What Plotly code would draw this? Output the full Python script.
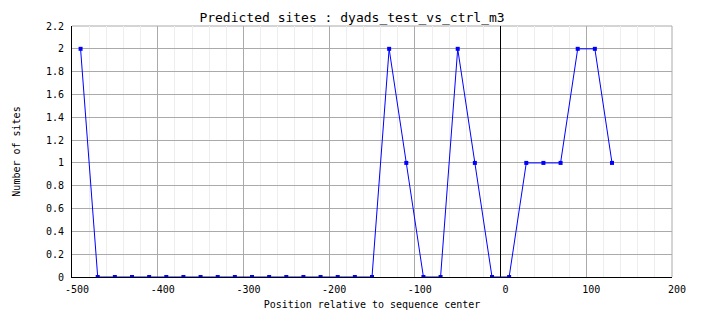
import plotly.graph_objects as go

positions = [-490, -470, -450, -430, -410, -390, -370, -350, -330, -310, -290, -270,
             -250, -230, -210, -190, -170, -150, -130, -110, -90, -70, -50, -30,
             -10, 10, 30, 50, 70, 90, 110, 130]
sites = [2, 0, 0, 0, 0, 0, 0, 0, 0, 0, 0, 0,
         0, 0, 0, 0, 0, 0, 2, 1, 0, 0, 2, 1,
         0, 0, 1, 1, 1, 2, 2, 1]

x_tick_vals = [-500, -400, -300, -200, -100, 0, 100, 200]
x_tick_text = ["-500", "-400", "-300", "-200", "-100", "0", "100", "200"]
y_tick_vals = [0, 0.2, 0.4, 0.6, 0.8, 1, 1.2, 1.4, 1.6, 1.8, 2, 2.2]
y_tick_text = ["0", "0.2", "0.4", "0.6", "0.8", "1", "1.2", "1.4", "1.6", "1.8", "2", "2.2"]

title_text = "Predicted sites : dyads_test_vs_ctrl_m3"
x_title = "Position relative to sequence center"
y_title = "Number of sites"

FONT = "DejaVu Sans Mono"

fig = go.Figure()
fig.add_trace(go.Scatter(
    x=positions, y=sites, mode="lines+markers",
    line=dict(color="#0000ff", width=1),
    marker=dict(color="#0000ff", size=4, symbol="square"),
    showlegend=False,
))

fig.update_layout(
    width=704, height=328,
    margin=dict(l=72, r=32, t=26, b=51),
    paper_bgcolor="white", plot_bgcolor="white",
    font=dict(family=FONT, size=10, color="black"),
    title=dict(text=title_text, x=0.5, xanchor="center", y=0.947, yanchor="middle",
               font=dict(family=FONT, size=13, color="black")),
    xaxis=dict(
        range=[-500, 200], tickvals=x_tick_vals, ticktext=x_tick_text,
        showgrid=True, gridcolor="#aaaaaa", gridwidth=1,
        minor=dict(dtick=20, tick0=0, showgrid=True, gridcolor="#eeeeee", gridwidth=1),
        zeroline=True, zerolinecolor="black", zerolinewidth=1,
        showline=True, linecolor="black", linewidth=1,
        ticks="", ticklabelshift=5, ticklabelstandoff=3,
        title=dict(text=x_title, font=dict(family=FONT, size=10), standoff=6),
        tickfont=dict(family=FONT, size=10),
    ),
    yaxis=dict(
        range=[0, 2.2], tickvals=y_tick_vals, ticktext=y_tick_text,
        showgrid=True, gridcolor="#aaaaaa", gridwidth=1,
        zeroline=False,
        showline=True, linecolor="black", linewidth=1,
        ticks="", ticklabelstandoff=5,
        title=dict(text=y_title, font=dict(family=FONT, size=10), standoff=23),
        tickfont=dict(family=FONT, size=10),
    ),
    shapes=[
        dict(type="line", xref="paper", yref="paper", x0=0, x1=1, y0=1, y1=1,
             line=dict(color="#aaaaaa", width=1), layer="below"),
        dict(type="line", xref="paper", yref="paper", x0=1, x1=1, y0=0, y1=1,
             line=dict(color="#aaaaaa", width=1), layer="below"),
    ],
)

fig.write_html("out.html")
